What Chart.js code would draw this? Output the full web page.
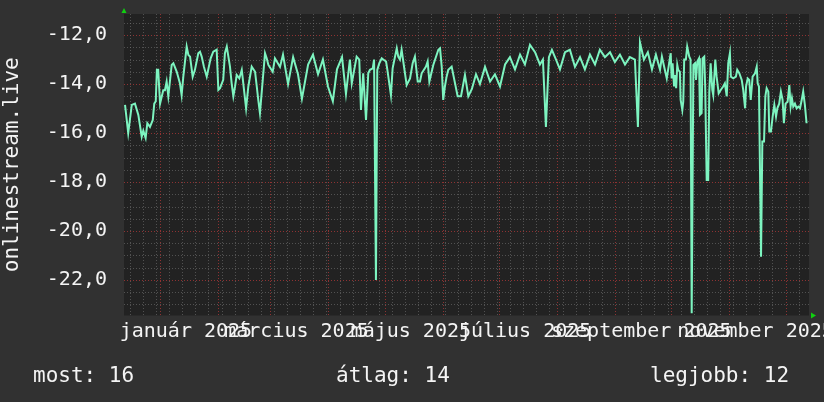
<!DOCTYPE html>
<html><head><meta charset="utf-8">
<script src="https://cdn.jsdelivr.net/npm/chart.js@4"></script>
<style>
html,body{margin:0;padding:0;background:#313131;}
#wrap{position:relative;width:824px;height:402px;overflow:hidden;}
canvas{position:absolute;left:0;top:0;}
.leg{position:absolute;top:363px;font-family:"DejaVu Sans Mono",monospace;font-size:21px;color:#f4f4f4;line-height:24px;white-space:pre;}
</style></head><body>
<div id="wrap"><canvas id="c" width="824" height="402"></canvas>
<div class="leg" id="l0" style="left:33px"></div>
<div class="leg" id="l1" style="left:336px"></div>
<div class="leg" id="l2" style="left:650px"></div>
</div>
<script>
// days since 2025-01-01
const dayOffsets = [
-18.5,-16.8,-14.9,-13.2,-11.4,-9.6,-8.75,-7.5,-6.6,-5.2,-3.7,-2.9,-2.1,-1.5,-0.8,0.2,
1.9,2.8,3.7,4.6,6.4,7.3,9.1,10.8,11.7,12.6,14.4,15.3,16.2,17.6,18.8,20.6,21.5,22.4,23.6,25.1,
27.2,28.6,30.4,31.3,32.2,33.9,34.8,35.8,37.5,38.4,39.3,40.2,41.1,42.5,43.8,46.1,47.3,49.1,
50.9,51.8,52.6,53.5,54.7,56.2,57.1,58.0,60.3,61.5,
64.2,65.8,68.5,71.2,73.8,75.9,79.2,81.8,84.5,87.1,89.8,92.4,94.6,97.3,99.4,
101.5,102.5,105.1,106.5,107.4,108.6,110.1,111.3,112.2,113.7,114.4,115.4,116.1,117.2,118.5,119.3,
120.8,121.5,123.4,124.3,126.5,127.3,128.2,129.1,130.9,131.8,133.6,135.0,136.2,137.7,138.9,139.8,
142.1,143.0,143.9,146.0,148.7,149.6,150.5,151.3,152.2,153.1,154.0,155.8,159.0,160.8,162.9,164.7,
166.6,168.8,170.9,173.6,176.3,178.9,181.6,184.3,186.9,189.6,192.3,194.9,197.6,200.3,202.9,204.5,
206.1,207.7,209.3,211.5,213.6,216.3,218.9,221.6,224.3,226.9,229.6,232.3,234.9,237.6,240.3,242.9,
245.6,248.3,250.9,253.6,255.2,256.3,258.4,260.5,262.7,264.8,
267.0,268.0,269.8,270.6,272.7,273.2,273.7,274.5,275.0,275.6,276.2,276.7,277.6,278.0,278.9,279.4,
279.9,280.8,281.5,282.6,283.3,283.9,284.8,285.7,286.2,286.9,287.8,288.3,289.2,289.7,290.6,291.1,
291.9,292.7,293.3,294.0,294.9,295.4,296.5,297.2,298.3,299.4,300.7,301.6,302.6,303.4,304.3,304.8,
306.1,307.5,308.2,309.3,310.6,311.4,312.4,312.9,313.8,314.6,315.4,316.4,317.7,318.6,319.1,319.8,
320.9,321.6,322.5,323.2,323.9,324.8,325.3,326.2,327.1,328.0,328.9,329.6,330.6,331.5,332.4,333.1,
334.0,335.1,336.0,336.7,337.4,338.1,339.0,339.9,340.8,341.7,342.6,343.4,344.3,345.2
];
const values = [
-14.85,-16.0,-14.85,-14.8,-15.26,-16.15,-15.9,-16.2,-15.6,-15.75,-15.47,-14.8,-14.7,-13.42,-13.42,-14.8,
-14.25,-14.25,-13.9,-14.5,-13.22,-13.15,-13.5,-13.97,-14.45,-13.7,-12.47,-12.81,-12.88,-13.7,-13.42,-12.74,-12.68,-12.88,-13.29,-13.7,
-12.95,-12.68,-12.6,-14.24,-14.17,-13.83,-12.74,-12.47,-13.29,-13.97,-14.5,-14.1,-13.63,-13.77,-13.42,-14.99,-14.1,-13.29,
-13.5,-14.1,-14.65,-15.19,-14.1,-12.74,-12.95,-13.22,-13.5,-12.95,
-13.3,-12.8,-14.0,-12.9,-13.6,-14.6,-13.2,-12.8,-13.6,-13.0,-14.1,-14.7,-13.4,-12.9,-14.4,
-13.0,-13.97,-12.88,-13.0,-15.06,-13.56,-15.47,-13.56,-13.42,-13.36,-13.0,-22.0,-13.42,-13.15,-12.95,-13.0,
-13.08,-13.42,-14.45,-13.36,-12.54,-12.88,-13.0,-12.6,-13.56,-14.04,-13.77,-13.15,-12.88,-13.9,-13.9,-13.56,
-13.29,-13.08,-13.9,-13.22,-12.6,-12.54,-13.29,-14.65,-14.1,-13.7,-13.42,-13.29,-14.5,-14.5,-13.63,-14.5,
-14.2,-13.6,-14.0,-13.3,-13.9,-13.6,-14.1,-13.2,-12.9,-13.4,-12.8,-13.2,-12.4,-12.7,-13.2,-13.0,
-15.75,-12.9,-12.6,-13.0,-13.4,-12.7,-12.6,-13.3,-12.9,-13.4,-12.8,-13.2,-12.6,-12.9,-12.7,-13.1,
-12.8,-13.2,-12.9,-13.0,-15.75,-12.3,-13.0,-12.7,-13.4,-12.8,
-13.42,-12.88,-13.5,-13.77,-12.74,-13.77,-13.15,-14.1,-13.63,-14.17,-13.22,-13.42,-13.5,-14.65,-15.06,-14.72,
-13.0,-13.0,-12.47,-12.88,-13.0,-23.36,-13.22,-13.15,-13.83,-13.08,-12.95,-15.26,-15.19,-12.95,-12.88,-14.1,
-17.92,-17.92,-14.31,-13.15,-14.24,-14.45,-13.0,-13.7,-14.38,-14.24,-14.1,-13.97,-14.5,-13.15,-12.74,-13.7,
-13.77,-13.7,-13.42,-13.56,-13.83,-14.24,-14.99,-14.1,-13.77,-13.83,-14.65,-13.7,-13.56,-13.29,-13.97,-14.1,
-21.05,-16.35,-16.35,-14.5,-14.17,-14.31,-15.94,-15.94,-15.33,-14.85,-15.33,-14.99,-14.8,-14.31,-14.65,-15.6,
-14.8,-14.72,-14.04,-14.92,-14.58,-14.92,-14.8,-14.99,-14.92,-14.99,-14.65,-14.31,-14.85,-15.6
];
const yTicks = [-22,-20,-18,-16,-14,-12];
const xLabelDays = [14,73,134,195,257,318];
const xLabels = ['január 2025','március 2025','május 2025','július 2025','szeptember 2025','november 2025'];
const monthStartDays = [0,31,59,90,120,151,181,212,243,273,304,334];
const firstMondayDay = -16;
const legendTexts = ['most: 16','átlag: 14','legjobb: 12'];
const seriesName = 'onlinestream.live';

legendTexts.forEach((t,i)=>{document.getElementById('l'+i).textContent=t;});

const MONO = '"DejaVu Sans Mono", monospace';

const gridPlugin = {
  id:'gridbg',
  beforeDatasetsDraw(chart){
    const {ctx, chartArea:a, scales:{x,y}} = chart;
    ctx.save();
    ctx.fillStyle = '#222222';
    ctx.fillRect(a.left, a.top, a.right-a.left, a.bottom-a.top);
    ctx.lineWidth = 1;
    ctx.setLineDash([1,2]);
    for (let v=-23.0; v<=-11.5; v+=0.5){
      const py = Math.round(y.getPixelForValue(v))+0.5;
      const major = Math.abs(v/2 - Math.round(v/2))<1e-6;
      ctx.strokeStyle = major ? 'rgba(170,55,55,0.8)' : 'rgba(120,120,120,0.55)';
      ctx.beginPath(); ctx.moveTo(a.left, py); ctx.lineTo(a.right, py); ctx.stroke();
    }
    ctx.strokeStyle = 'rgba(120,120,120,0.55)';
    for (let d=firstMondayDay; d<=x.max; d+=7){
      if (monthStartDays.includes(d)) continue;
      const px = Math.round(x.getPixelForValue(d))+0.5;
      ctx.beginPath(); ctx.moveTo(px, a.top); ctx.lineTo(px, a.bottom); ctx.stroke();
    }
    ctx.strokeStyle = 'rgba(170,55,55,0.8)';
    monthStartDays.forEach(d=>{
      const px = Math.round(x.getPixelForValue(d))+0.5;
      ctx.beginPath(); ctx.moveTo(px, a.top); ctx.lineTo(px, a.bottom); ctx.stroke();
    });
    ctx.restore();
  },
  afterDraw(chart){
    const {ctx, chartArea:a} = chart;
    ctx.save();
    ctx.fillStyle = '#10d010';
    ctx.beginPath();
    ctx.moveTo(a.left-2.5, a.top-1); ctx.lineTo(a.left+2.5, a.top-1); ctx.lineTo(a.left, a.top-6); ctx.closePath(); ctx.fill();
    ctx.beginPath();
    ctx.moveTo(a.right+2, a.bottom-3); ctx.lineTo(a.right+2, a.bottom+3); ctx.lineTo(a.right+7, a.bottom); ctx.closePath(); ctx.fill();
    ctx.restore();
  }
};

new Chart(document.getElementById('c'), {
  type:'line',
  data:{datasets:[{
    label: seriesName,
    data: dayOffsets.map((d,i)=>({x:d, y:values[i]})),
    borderColor:'#7df4c0', borderWidth:2, pointRadius:0, tension:0, fill:false
  }]},
  options:{
    responsive:false, animation:false, devicePixelRatio:1,
    layout:{padding:{top:14,right:15,left:0,bottom:0}},
    plugins:{legend:{display:false}, tooltip:{enabled:false}},
    scales:{
      x:{type:'linear', min:-19.05, max:346.5,
        afterBuildTicks:s=>{s.ticks = xLabelDays.map(v=>({value:v}));},
        afterFit:s=>{s.height = 86.5; s.paddingLeft = 0; s.paddingRight = 0;},
        ticks:{autoSkip:false, maxRotation:0, minRotation:0, padding:4, color:'#f4f4f4',
          font:{family:MONO, size:20},
          callback:(v)=>xLabels[xLabelDays.indexOf(v)]},
        grid:{display:false, drawTicks:false}, border:{display:false}},
      y:{type:'linear', min:-23.45, max:-11.14,
        afterBuildTicks:s=>{s.ticks = yTicks.map(v=>({value:v}));},
        afterFit:s=>{s.width = 124; s.paddingTop = 0; s.paddingBottom = 0;},
        ticks:{padding:17, color:'#f4f4f4', font:{family:MONO, size:20},
          callback:(v)=>v.toFixed(1).replace('.',',')},
        title:{display:true, text:seriesName, color:'#f4f4f4', font:{family:MONO, size:21}, padding:0},
        grid:{display:false, drawTicks:false}, border:{display:false}}
    }
  },
  plugins:[gridPlugin]
});
</script>
</body></html>
